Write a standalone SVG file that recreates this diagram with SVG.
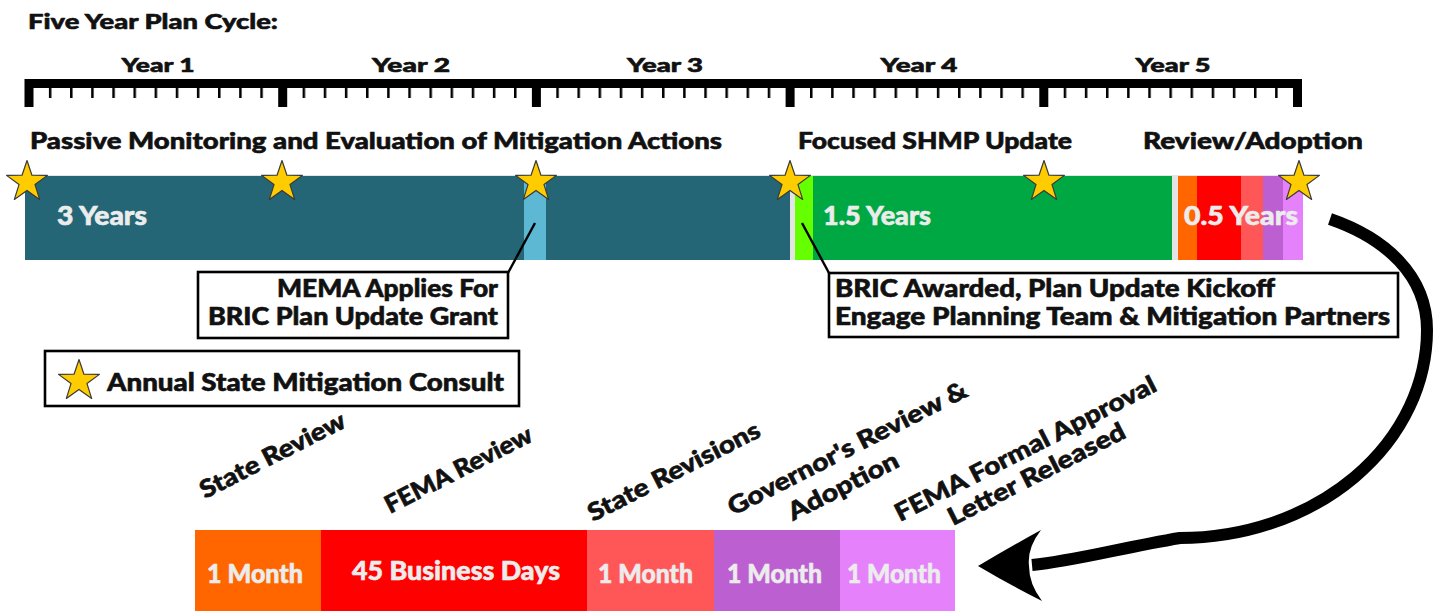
<svg xmlns="http://www.w3.org/2000/svg" width="1434" height="611" viewBox="0 0 1434 611">
  <style>
    text { font-family: "Lato", "Liberation Sans", sans-serif; font-weight: 900; fill: #111; stroke: #111; stroke-width: 0.6px; stroke-linejoin: round; }
    .title { font-size: 21px; }
    .year { font-size: 19.5px; text-anchor: middle; }
    .phase { font-size: 23px; }
    .dur { font-size: 26px; fill: #ececec; stroke: #ececec; }
    .note { font-size: 24px; }
    .step { font-size: 24.5px; }
    .box { fill: #fff; stroke: #000; stroke-width: 2.6; }
    .lead { stroke: #000; stroke-width: 2.4; fill: none; }
    .star { fill: #FFCC00; stroke: #3a3a3a; stroke-width: 1.2; stroke-linejoin: round; }
  </style>
  <defs>
    <path id="starShape" class="star" d="M0,-21.5 L4.94,-6.8 L20.45,-6.64 L7.99,2.6 L12.64,17.39 L0,8.4 L-12.64,17.39 L-7.99,2.6 L-20.45,-6.64 L-4.94,-6.8 Z"/>
    <pattern id="monthTicks" patternUnits="userSpaceOnUse" x="27.75" y="0" width="21.1417" height="611">
      <rect x="0" y="88" width="2.5" height="10" fill="#000"/>
    </pattern>
  </defs>

  <rect width="1434" height="611" fill="#fff"/>

  <!-- Title and year ruler -->
  <g id="ruler">
    <text class="title" x="28" y="29" textLength="250" lengthAdjust="spacingAndGlyphs">Five Year Plan Cycle:</text>
    <text class="year" x="158" y="72" textLength="73" lengthAdjust="spacingAndGlyphs">Year 1</text>
    <text class="year" x="411" y="72" textLength="78" lengthAdjust="spacingAndGlyphs">Year 2</text>
    <text class="year" x="665" y="72" textLength="76" lengthAdjust="spacingAndGlyphs">Year 3</text>
    <text class="year" x="919" y="72" textLength="77" lengthAdjust="spacingAndGlyphs">Year 4</text>
    <text class="year" x="1173" y="72" textLength="75" lengthAdjust="spacingAndGlyphs">Year 5</text>
    <rect x="25" y="79" width="1277" height="9" fill="#000"/>
    <rect x="29" y="88" width="1268" height="10" fill="url(#monthTicks)"/>
    <rect x="24.5" y="79" width="9" height="28" fill="#000"/>
    <rect x="278.2" y="79" width="9" height="28" fill="#000"/>
    <rect x="531.9" y="79" width="9" height="28" fill="#000"/>
    <rect x="785.6" y="79" width="9" height="28" fill="#000"/>
    <rect x="1039.3" y="79" width="9" height="28" fill="#000"/>
    <rect x="1293" y="79" width="9" height="28" fill="#000"/>
  </g>

  <!-- Phase headings -->
  <g id="phase-labels">
    <text class="phase" x="30" y="149" textLength="692" lengthAdjust="spacingAndGlyphs">Passive Monitoring and Evaluation of Mitigation Actions</text>
    <text class="phase" x="798" y="149" textLength="274" lengthAdjust="spacingAndGlyphs">Focused SHMP Update</text>
    <text class="phase" x="1143" y="149" textLength="220" lengthAdjust="spacingAndGlyphs">Review/Adoption</text>
  </g>

  <!-- Five year timeline bar -->
  <g id="timeline-bar">
    <rect x="25" y="175" width="1278" height="85" fill="#e4e4e4"/>
    <rect x="25" y="176" width="765" height="84" fill="#246676"/>
    <rect x="524" y="176" width="22" height="84" fill="#5DB9D3"/>
    <rect x="795" y="176" width="18" height="84" fill="#66FF00"/>
    <rect x="813" y="176" width="359" height="84" fill="#00A844"/>
    <rect x="1178" y="176" width="19" height="84" fill="#FF6600"/>
    <rect x="1197" y="176" width="44" height="84" fill="#FF0000"/>
    <rect x="1241" y="176" width="22" height="84" fill="#FF5757"/>
    <rect x="1263" y="176" width="20" height="84" fill="#BB5FD1"/>
    <rect x="1283" y="176" width="20" height="84" fill="#E582FB"/>
    <text class="dur" x="57" y="225" textLength="90" lengthAdjust="spacingAndGlyphs">3 Years</text>
    <text class="dur" x="823" y="225" textLength="108" lengthAdjust="spacingAndGlyphs">1.5 Years</text>
    <text class="dur" x="1184" y="225" textLength="114" lengthAdjust="spacingAndGlyphs">0.5 Years</text>
  </g>

  <!-- Annual consult markers -->
  <g id="consult-stars">
    <use href="#starShape" x="27" y="182"/>
    <use href="#starShape" x="282" y="182"/>
    <use href="#starShape" x="536" y="182"/>
    <use href="#starShape" x="790" y="182"/>
    <use href="#starShape" x="1044" y="182"/>
    <use href="#starShape" x="1299" y="182"/>
  </g>

  <!-- Leader lines and review arrow -->
  <g id="connectors">
    <path class="lead" d="M508,273 L535,223"/>
    <path class="lead" d="M829,273 L802,223"/>
    <path d="M1330,219 C1385,238 1427,275 1427,330 A247,208 0 0 1 1180,538 C1120,548 1075,561 1032,565" fill="none" stroke="#000" stroke-width="12"/>
    <path d="M978,566 Q1010,547 1041,530 Q1027,548 1029,566 Q1029,584 1042,601 Q1010,585 978,566 Z" fill="#000"/>
  </g>

  <g id="grant-application">
    <rect class="box" x="198" y="272" width="310" height="66"/>
    <text class="note" x="498" y="297" text-anchor="end" textLength="221" lengthAdjust="spacingAndGlyphs">MEMA Applies For</text>
    <text class="note" x="498" y="325" text-anchor="end" textLength="290" lengthAdjust="spacingAndGlyphs">BRIC Plan Update Grant</text>
  </g>

  <g id="grant-award">
    <rect class="box" x="829" y="273" width="569" height="64"/>
    <text class="note" x="835" y="297" textLength="440" lengthAdjust="spacingAndGlyphs">BRIC Awarded, Plan Update Kickoff</text>
    <text class="note" x="835" y="325" textLength="555" lengthAdjust="spacingAndGlyphs">Engage Planning Team &amp; Mitigation Partners</text>
  </g>

  <g id="legend">
    <rect class="box" x="45" y="351" width="474" height="55"/>
    <use href="#starShape" x="79" y="381"/>
    <text class="note" x="107" y="391" textLength="397" lengthAdjust="spacingAndGlyphs">Annual State Mitigation Consult</text>
  </g>

  <!-- Review / adoption breakdown -->
  <g id="review-steps">
    <rect x="195" y="530" width="126" height="81" fill="#FF6600"/>
    <rect x="321" y="530" width="266" height="81" fill="#FF0000"/>
    <rect x="587" y="530" width="127" height="81" fill="#FF5757"/>
    <rect x="714" y="530" width="126" height="81" fill="#BB5FD1"/>
    <rect x="840" y="530" width="115" height="81" fill="#E582FB"/>
    <text class="dur" x="207" y="583" textLength="96" lengthAdjust="spacingAndGlyphs">1 Month</text>
    <text class="dur" x="352" y="580" textLength="208" lengthAdjust="spacingAndGlyphs">45 Business Days</text>
    <text class="dur" x="598" y="583" textLength="95" lengthAdjust="spacingAndGlyphs">1 Month</text>
    <text class="dur" x="727" y="583" textLength="95" lengthAdjust="spacingAndGlyphs">1 Month</text>
    <text class="dur" x="847" y="583" textLength="94" lengthAdjust="spacingAndGlyphs">1 Month</text>
  </g>

  <g id="step-labels">
    <text class="step" transform="translate(205,499) rotate(-27)" textLength="160" lengthAdjust="spacingAndGlyphs">State Review</text>
    <text class="step" transform="translate(390,514) rotate(-27)" textLength="162" lengthAdjust="spacingAndGlyphs">FEMA Review</text>
    <text class="step" transform="translate(593,522) rotate(-27)" textLength="190" lengthAdjust="spacingAndGlyphs">State Revisions</text>
    <text class="step" transform="translate(733,516) rotate(-27)" textLength="265" lengthAdjust="spacingAndGlyphs">Governor's Review &amp;</text>
    <text class="step" transform="translate(793,521) rotate(-27)" textLength="121" lengthAdjust="spacingAndGlyphs">Adoption</text>
    <text class="step" transform="translate(900,522) rotate(-27)" textLength="290" lengthAdjust="spacingAndGlyphs">FEMA Formal Approval</text>
    <text class="step" transform="translate(953,526) rotate(-27)" textLength="196" lengthAdjust="spacingAndGlyphs">Letter Released</text>
  </g>
</svg>
